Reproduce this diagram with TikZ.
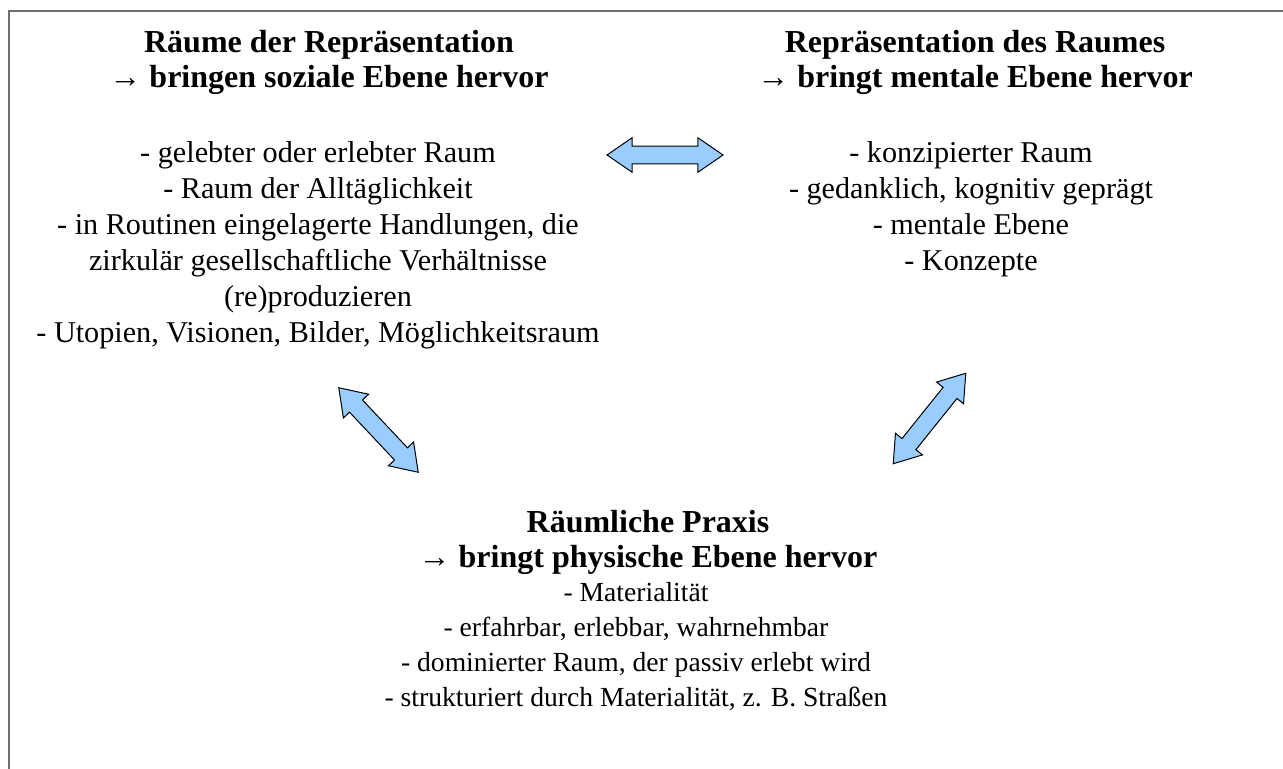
\documentclass[tikz,border=0pt]{standalone}
\usepackage{fontspec}
\setmainfont{Liberation Serif}
\usetikzlibrary{shapes.arrows}
\definecolor{arrowblue}{RGB}{153,204,255}
\definecolor{framegray}{RGB}{110,110,110}

\begin{document}
\begin{tikzpicture}[x=0.5pt, y=-0.5pt,
    every node/.style={align=center, inner sep=0pt, font=\fontsize{15.1}{18}\selectfont},
    head/.style={font=\fontsize{16}{17.5}\selectfont\bfseries},
    low/.style={font=\fontsize{13.8}{17.5}\selectfont},
    fatarrow/.style={double arrow, draw=black, fill=arrowblue, line width=0.5pt,
        inner xsep=0pt, inner ysep=4.2pt, double arrow head extend=4.2pt,
        double arrow tip angle=69, minimum height=58pt}]
    \useasboundingbox (0,0) rectangle (1283,769);
    \draw[framegray, line width=1pt] (9,769) -- (9,11) -- (1283,11);

    \node[head] (lt) at (329,62) {Räume der Repräsentation\\→ bringen soziale Ebene hervor};
    \node (lb) at (318,245) {- gelebter oder erlebter Raum\\- Raum der Alltäglichkeit\\- in Routinen eingelagerte Handlungen, die\\zirkulär gesellschaftliche Verhältnisse\\(re)produzieren\\- Utopien, Visionen, Bilder, Möglichkeitsraum};

    \node[head] (rt) at (975,62) {Repräsentation des Raumes\\→ bringt mentale Ebene hervor};
    \node (rb) at (971,209) {- konzipierter Raum\\- gedanklich, kognitiv geprägt\\- mentale Ebene\\- Konzepte};

    \node[head] (bt) at (648,542) {Räumliche Praxis\\→ bringt physische Ebene hervor};
    \node[low] (bb) at (636,647) {- Materialität\\- erfahrbar, erlebbar, wahrnehmbar\\- dominierter Raum, der passiv erlebt wird\\- strukturiert durch Materialität, z. B. Straßen};

    \coordinate (h1) at (607,155);
    \coordinate (h2) at (723,155);
    \coordinate (l1) at (339,388);
    \coordinate (l2) at (418,472);
    \coordinate (r1) at (893,464);
    \coordinate (r2) at (966,373);
    \path (h1) -- node[fatarrow, sloped] (ha) {} (h2);
    \path (l1) -- node[fatarrow, sloped] (la) {} (l2);
    \path (r1) -- node[fatarrow, sloped] (ra) {} (r2);
\end{tikzpicture}
\end{document}
